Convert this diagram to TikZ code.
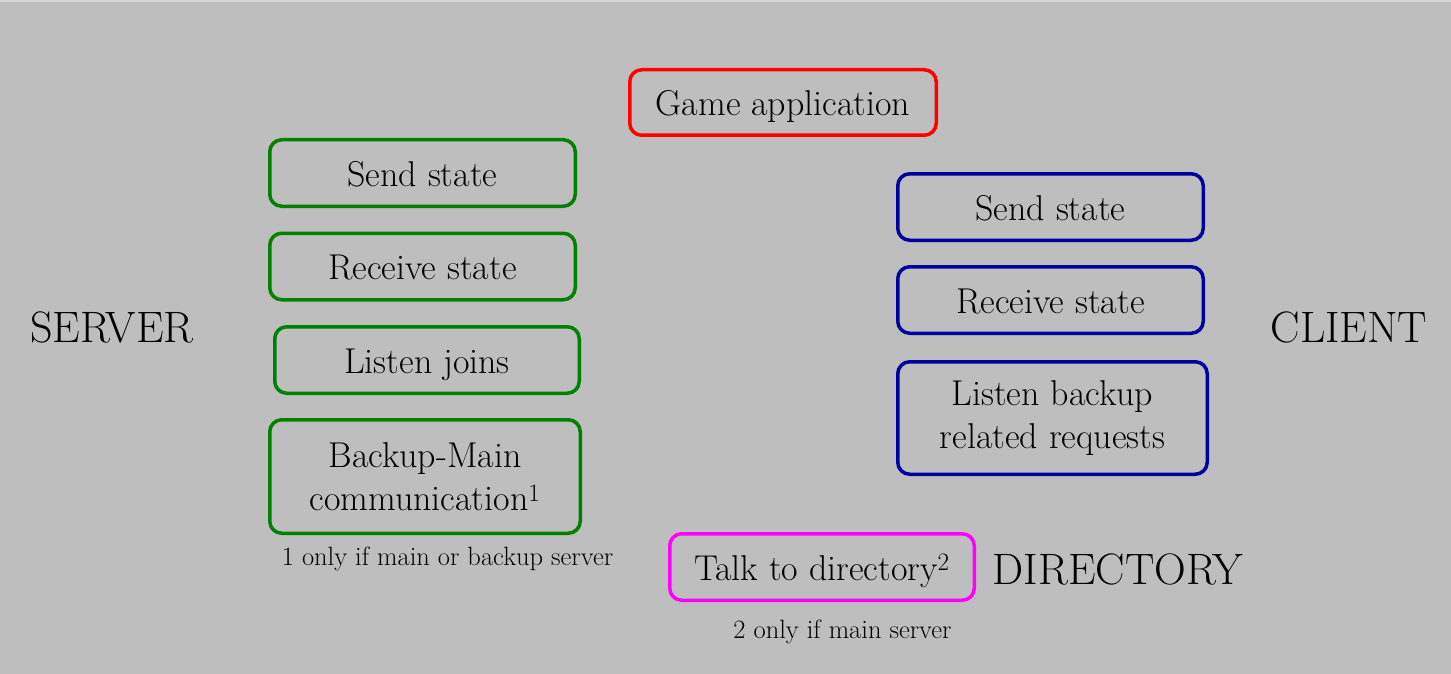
\documentclass[tikz,border=0pt]{standalone}
\usetikzlibrary{positioning}
\tikzset{box/.style={draw, rounded corners=12pt, line width=3.5pt, minimum width=305.5pt, minimum height=66.5pt, inner sep=0pt, align=center, font=\fontsize{35.9}{43.5}\selectfont}}
\tikzset{one/.style={text height=26pt, text depth=0pt}}
\tikzset{big/.style={font=\fontsize{44}{44}\selectfont, text height=30pt, text depth=0pt, inner sep=0pt}}
\tikzset{note/.style={font=\fontsize{26.5}{26.5}\selectfont, text height=18pt, text depth=0pt, inner sep=0pt}}
\definecolor{bggray}{RGB}{190,190,190}
\definecolor{topgray}{RGB}{214,214,214}
\definecolor{srvgreen}{RGB}{0,128,0}
\definecolor{clinavy}{RGB}{0,0,160}
\definecolor{appred}{RGB}{255,0,0}
\definecolor{dirpink}{RGB}{255,0,255}

\begin{document}
\begin{tikzpicture}[x=1pt, y=-1pt]
  \fill [bggray] (0,0) rectangle (1451,674);
  \fill [topgray] (0,0) rectangle (1451,2);
  \useasboundingbox (0,0) rectangle (1451,674);
  % application
  \node (game) [box, one, appred, text=black, minimum height=65.5pt, minimum width=306.5pt] at (783,102.5) {Game application};
  % server side
  \node (ssend) [box, one, srvgreen, text=black] at (422.5,173) {Send state};
  \node (srecv) [box, one, srvgreen, text=black] at (422.5,266.5) {Receive state};
  \node (sjoin) [box, one, srvgreen, text=black, minimum width=304.5pt] at (427,360) {Listen joins};
  \node (sback) [box, srvgreen, text=black, minimum width=310.5pt, minimum height=113.5pt] at (425,476.5) {Backup-Main\\communication\textsuperscript{1}};
  \node (snote) [note] at (447.5,556) {1 only if main or backup server};
  \node (server) [big] at (112,327) {SERVER};
  % client side
  \node (csend) [box, one, clinavy, text=black] at (1050.5,207) {Send state};
  \node (crecv) [box, one, clinavy, text=black] at (1050.5,300) {Receive state};
  \node (cback) [box, clinavy, text=black, minimum width=309.5pt, minimum height=112.5pt] at (1052.5,418) {Listen backup\\related requests};
  \node (client) [big] at (1349,327) {CLIENT};
  % directory
  \node (dtalk) [box, one, dirpink, text=black, minimum width=304.5pt] at (822,567) {Talk to directory\textsuperscript{2}};
  \node (dnote) [note] at (842.5,629) {2 only if main server};
  \node (directory) [big] at (1118,569) {DIRECTORY};
\end{tikzpicture}
\end{document}
